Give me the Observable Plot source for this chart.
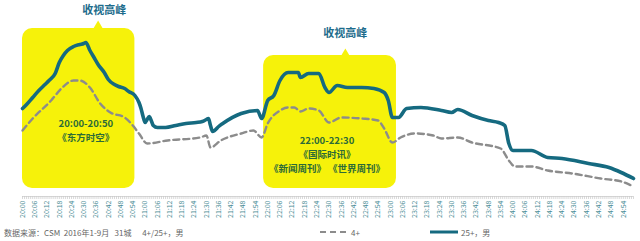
<!DOCTYPE html>
<html>
<head>
<meta charset="utf-8">
<script src="https://cdn.jsdelivr.net/npm/d3@7"></script>
<script src="https://cdn.jsdelivr.net/npm/@observablehq/plot@0.6"></script>
<style>
  body { margin: 0; background: #fff; font-family: "Noto Sans CJK SC", "Noto Sans", sans-serif; }
  #wrap { width: 640px; height: 241px; position: relative; overflow: hidden; }
  #legend { position: absolute; left: 0; top: 224px; width: 640px; height: 17px; font-size: 8px; color: #666; }
  #legend span { position: absolute; top: 3px; white-space: pre; }
</style>
</head>
<body>
<div id="wrap">
  <div id="chart"></div>
  <div id="legend">
    <span style="left:4px">数据来源：CSM  2016年1-9月   31城      4+/25+，男</span>
    <svg style="position:absolute;left:318px;top:4px" width="32" height="8"><line x1="2" y1="4" x2="30" y2="4" stroke="#8c8c8c" stroke-width="2" stroke-dasharray="6,4"/></svg>
    <span style="left:351px">4+</span>
    <svg style="position:absolute;left:428px;top:4px" width="32" height="8"><line x1="2" y1="4" x2="30" y2="4" stroke="#156a80" stroke-width="3"/></svg>
    <span style="left:461px">25+，男</span>
  </div>
</div>
<script>
// 25+ male series (time, rating)
const maleTimes = ["20:00","20:02","20:05","20:08","20:11","20:13","20:16","20:18","20:20","20:22","20:25","20:28","20:30","20:31","20:33","20:35","20:37","20:40","20:42","20:45","20:47","20:50","20:52","20:55","20:57","20:58","20:59","21:00","21:01","21:02","21:03","21:04","21:06","21:10","21:15","21:20","21:25","21:28","21:30","21:31","21:32","21:33","21:34","21:36","21:38","21:47","21:55","21:57","22:00","22:03","22:06","22:10","22:15","22:16","22:20","22:25","22:28","22:30","22:34","22:39","22:46","22:52","22:57","22:59","23:01","23:04","23:08","23:15","23:25","23:30","23:33","23:40","23:48","23:53","23:56","23:58","24:00","24:09","24:17","24:24","24:37","24:47","24:53","24:59"];
const maleValues = [0.88,0.92,0.99,1.06,1.12,1.16,1.23,1.34,1.41,1.46,1.50,1.52,1.53,1.54,1.46,1.39,1.32,1.24,1.17,1.12,1.10,1.08,1.05,1.01,0.94,0.88,0.80,0.74,0.77,0.80,0.76,0.71,0.69,0.69,0.71,0.73,0.74,0.75,0.77,0.78,0.71,0.65,0.66,0.70,0.73,0.83,0.86,0.78,0.96,1.01,1.16,1.24,1.24,1.19,1.23,1.23,1.09,1.04,1.11,1.09,1.09,1.08,1.04,0.96,0.79,0.79,0.88,0.89,0.86,0.84,0.87,0.81,0.76,0.74,0.71,0.53,0.46,0.46,0.39,0.38,0.33,0.29,0.24,0.18];

// 4+ series (time, rating)
const allTimes = ["20:00","20:05","20:14","20:19","20:25","20:28","20:33","20:38","20:43","20:50","20:54","20:57","21:01","21:11","21:27","21:30","21:32","21:37","21:47","21:53","21:57","22:00","22:06","22:10","22:13","22:16","22:20","22:25","22:30","22:36","22:46","22:54","22:57","23:01","23:05","23:12","23:21","23:25","23:33","23:40","23:54","23:58","24:01","24:09","24:17","24:29","24:43","24:53","24:59"];
const allValues = [0.66,0.78,0.96,1.08,1.16,1.16,1.09,0.93,0.84,0.79,0.71,0.63,0.53,0.56,0.59,0.61,0.49,0.56,0.63,0.66,0.59,0.73,0.86,0.89,0.89,0.85,0.88,0.86,0.74,0.79,0.78,0.76,0.68,0.54,0.59,0.63,0.61,0.58,0.59,0.54,0.48,0.36,0.30,0.30,0.26,0.23,0.18,0.15,0.10];

// Axis tick labels (every 6 minutes)
const tickLabels = ["20:00","20:06","20:12","20:18","20:24","20:30","20:36","20:42","20:48","20:54","21:00","21:06","21:12","21:18","21:24","21:30","21:36","21:42","21:48","21:54","22:00","22:06","22:12","22:18","22:24","22:30","22:36","22:42","22:48","22:54","23:00","23:06","23:12","23:18","23:24","23:30","23:36","23:42","23:48","23:54","24:00","24:06","24:12","24:18","24:24","24:30","24:36","24:42","24:48","24:54"];

// Highlight boxes (peak periods)
const boxStart = ["20:00","21:58"];
const boxEnd = ["20:55","23:03"];
const boxTop = [1.68, 1.41];
const boxBottom = [0.08, 0.08];
const pointerTime = ["20:37","22:38"];
const pointerValue = [1.705, 1.425];

// Annotation texts
const peakTitle = ["收视高峰","收视高峰"];
const peakTitleTime = ["20:40","22:38"];
const peakTitleValue = [1.86, 1.63];
const boxLabel = ["20:00-20:50\n《东方时空》", "22:00-22:30\n《国际时讯》\n《新闻周刊》 《世界周刊》"];
const boxLabelTime = ["20:31","22:29"];
const boxLabelValue = [0.67, 0.43];

const toMin = s => { const [h, m] = s.split(":").map(Number); return (h - 20) * 60 + m; };
const fmt = m => `${20 + Math.floor(m / 60)}:${String(m % 60).padStart(2, "0")}`;

const male = maleTimes.map((t, i) => ({t: toMin(t), v: maleValues[i]}));
const all = allTimes.map((t, i) => ({t: toMin(t), v: allValues[i]}));
const boxes = boxStart.map((s, i) => ({x1: toMin(s), x2: toMin(boxEnd[i]), y1: boxBottom[i], y2: boxTop[i]}));
const pointers = pointerTime.map((t, i) => ({t: toMin(t), v: pointerValue[i]}));
const titles = peakTitle.map((s, i) => ({s, t: toMin(peakTitleTime[i]), v: peakTitleValue[i]}));
const labels = boxLabel.map((s, i) => ({s, t: toMin(boxLabelTime[i]), v: boxLabelValue[i]}));
const tickVals = tickLabels.map(toMin);
const minuteTicks = d3.range(0, 300);

const yellow = "#f6f20a";
const chart = Plot.plot({
  width: 640,
  height: 224,
  marginLeft: 22,
  marginRight: 7,
  marginTop: 16,
  marginBottom: 28,
  style: {fontFamily: "'Noto Sans CJK SC', 'Noto Sans', sans-serif", background: "transparent", overflow: "visible"},
  x: {domain: [0, 299], axis: null},
  y: {domain: [0, 1.8], axis: null},
  marks: [
    Plot.rect(boxes, {x1: "x1", x2: "x2", y1: "y1", y2: "y2", fill: yellow, rx: 10, ry: 10}),
    Plot.dot(pointers, {x: "t", y: "v", symbol: "triangle", r: 3.6, fill: yellow, stroke: null}),
    Plot.ruleY([0], {stroke: "#d8d8d8", strokeWidth: 1}),
    Plot.axisX({ticks: minuteTicks, tickSize: 3, stroke: "#c8c8c8", tickFormat: () => "", strokeWidth: 0.7}),
    Plot.axisX({ticks: tickVals, tickSize: 0, tickPadding: 4, tickRotate: -90, tickFormat: fmt, fontSize: 7, fill: "#4a8c96"}),
    Plot.line(all, {x: "t", y: "v", stroke: "#8c8c8c", strokeWidth: 2.4, strokeDasharray: "6,4", curve: "monotone-x"}),
    Plot.line(male, {x: "t", y: "v", stroke: "#156a80", strokeWidth: 3.6, curve: "monotone-x"}),
    Plot.text(titles, {x: "t", y: "v", text: "s", fill: "#1d6c8c", fontSize: 11, fontWeight: "bold"}),
    Plot.text(labels, {x: "t", y: "v", text: "s", fill: "#2c6a38", fontSize: 9.5, fontWeight: "bold", lineHeight: 1.45})
  ]
});
document.getElementById("chart").appendChild(chart);
</script>
</body>
</html>
